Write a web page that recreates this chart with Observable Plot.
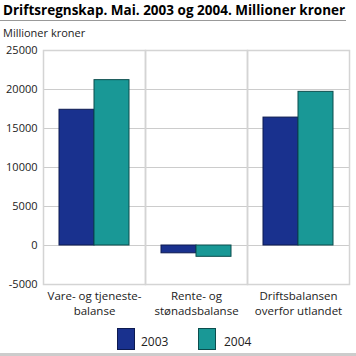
<!DOCTYPE html>
<html>
<head>
<meta charset="utf-8">
<script src="https://cdn.jsdelivr.net/npm/d3@7"></script>
<script src="https://cdn.jsdelivr.net/npm/@observablehq/plot@0.6"></script>
<style>
  body { margin: 0; background: #fff; font-family: "Open Sans", sans-serif; }
  #wrap { position: relative; width: 356px; height: 356px; overflow: hidden; }
  #wrap svg { position: absolute; left: 0; top: 0; }
  .title { position: absolute; left: 3px; top: 1px; font-size: 13.5px; font-weight: bold; color: #000; white-space: nowrap; }
  .rule1 { position: absolute; left: 0; top: 20px; width: 346px; height: 1px; background: #999; }
  .sub { position: absolute; left: 3px; top: 25px; font-size: 11px; color: #222; white-space: nowrap; }
  .leg { position: absolute; font-size: 12px; color: #222; }
  .box { position: absolute; width: 18px; height: 22px; box-sizing: border-box; }
  .rule2 { position: absolute; left: 0; top: 353px; width: 356px; height: 3px; background: #ccc; }
</style>
</head>
<body>
<div id="wrap">
  <div class="title">Driftsregnskap. Mai. 2003 og 2004. Millioner kroner</div>
  <div class="rule1"></div>
  <div class="sub">Millioner kroner</div>
  <div id="chart"></div>
  <div class="box" style="left:117px;top:328px;background:#19318e;border:1px solid #0d1a50"></div>
  <div class="leg" style="left:141px;top:333px">2003</div>
  <div class="box" style="left:198px;top:328px;background:#199896;border:1px solid #0b4d4d"></div>
  <div class="leg" style="left:224px;top:333px">2004</div>
  <div class="rule2"></div>
</div>
<script>
const categories = ["Vare- og tjeneste-\nbalanse", "Rente- og\nstønadsbalanse", "Driftsbalansen\noverfor utlandet"];
const years = ["2003", "2004"];
const values2003 = [17400, -1000, 16400];
const values2004 = [21200, -1450, 19700];
const yTicks = [-5000, 0, 5000, 10000, 15000, 20000, 25000];
const colors = {"2003": "#19318e", "2004": "#199896"};
const strokes = {"2003": "#0d1a50", "2004": "#0b4d4d"};

const data = [];
categories.forEach((c, i) => {
  data.push({category: c, year: "2003", value: values2003[i]});
  data.push({category: c, year: "2004", value: values2004[i]});
});

const chart = Plot.plot({
  width: 356,
  height: 356,
  marginLeft: 42,
  marginRight: 7,
  marginTop: 50,
  marginBottom: 72,
  style: {fontFamily: "Open Sans, sans-serif", fontSize: "11px", color: "#222", background: "transparent"},
  fx: {domain: categories, padding: 0, label: null},
  x: {domain: years, paddingInner: 0, paddingOuter: 0.42, axis: null},
  y: {domain: [-5000, 25000], label: null},
  marks: [
    Plot.gridY(yTicks, {stroke: "#ccc", strokeOpacity: 1}),
    Plot.frame({stroke: "#d4d4d4", strokeWidth: 1.5}),
    ...years.map(yr => Plot.barY(data.filter(d => d.year === yr), {
      fx: "category", x: "year", y: "value",
      fill: colors[yr], stroke: strokes[yr], strokeWidth: 1, inset: 0
    })),
    Plot.axisY(yTicks, {tickSize: 0, tickPadding: 6, tickFormat: d => String(d), fontSize: 11}),
    Plot.axisFx({anchor: "bottom", tickSize: 0, tickPadding: 5, lineHeight: 1.28, fontSize: 11.5, label: null})
  ]
});
document.getElementById("chart").appendChild(chart);
</script>
</body>
</html>
